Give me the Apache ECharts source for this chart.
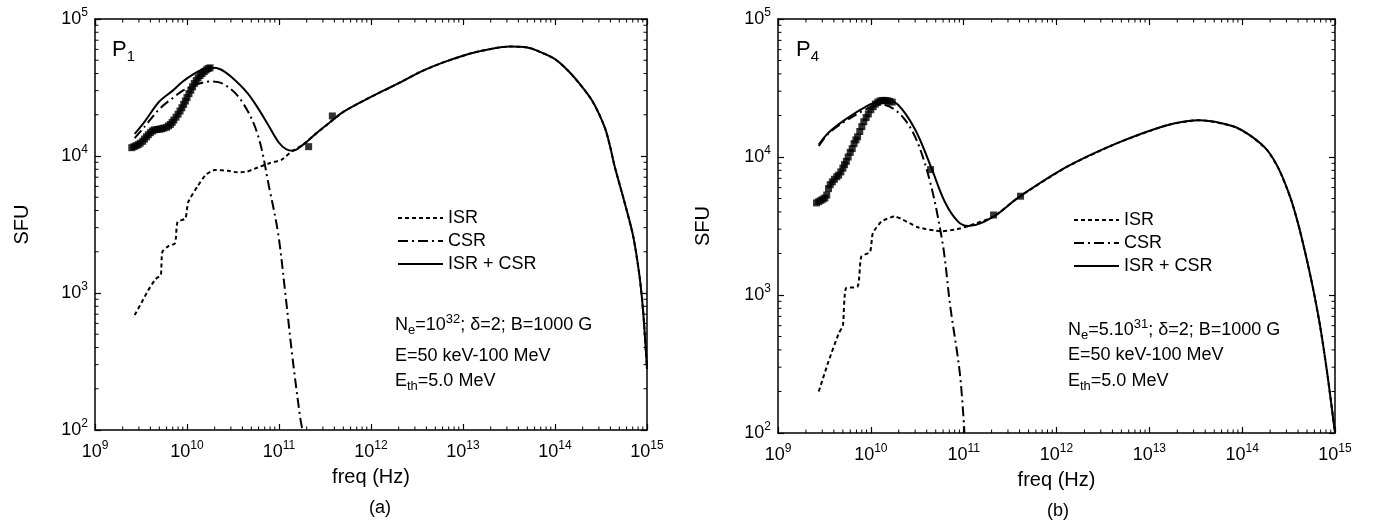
<!DOCTYPE html>
<html><head><meta charset="utf-8">
<script src="https://cdn.jsdelivr.net/npm/echarts@6/dist/echarts.min.js"></script>
<style>html,body{margin:0;padding:0;background:#fff}#c{width:1382px;height:524px}</style>
</head><body><div id="c"></div>
<script>
// ---------- tick labels / categories ----------
const xTicks = [1e9, 1e10, 1e11, 1e12, 1e13, 1e14, 1e15];
const yTicks = [1e2, 1e3, 1e4, 1e5];
const seriesNames = ['ISR', 'CSR', 'ISR + CSR'];
const panelTags = ['(a)', '(b)'];
const panelIdx = ['1', '4'];

// ---------- panel (a): P1 ----------
const p1Total = [[2.7e9,1.45e4],[3.5e9,1.8e4],[5e9,2.5e4],[7e9,3.0e4],[9e9,3.5e4],[1.2e10,4.0e4],[1.5e10,4.3e4],[1.85e10,4.4e4],[2.3e10,4.3e4],[3e10,3.8e4],[4.5e10,2.9e4],[6e10,2.2e4],[7.5e10,1.72e4],[1e11,1.25e4],[1.2e11,1.12e4],[1.4e11,1.09e4],[1.8e11,1.2e4],[2.5e11,1.45e4],[3.5e11,1.74e4],[5e11,2.1e4],[1e12,2.7e4],[2e12,3.4e4],[3.4e12,4.1e4],[6e12,4.8e4],[1.2e13,5.6e4],[2e13,6.05e4],[3.2e13,6.3e4],[5e13,6.2e4],[6.3e13,5.9e4],[1e14,5.1e4],[1.45e14,4.07e4],[2e14,3.16e4],[2.5e14,2.57e4],[3e14,2.04e4],[3.55e14,1.55e4],[4e14,1.15e4],[4.47e14,8.3e3],[5.6e14,4.8e3],[7.1e14,2.57e3],[8.3e14,1.32e3],[9.1e14,720],[1e15,280]];
const p1CSR = [[2.7e9,1.35e4],[3.5e9,1.65e4],[5e9,2.2e4],[7e9,2.65e4],[9e9,3.0e4],[1.3e10,3.35e4],[1.85e10,3.5e4],[2.5e10,3.35e4],[3.8e10,2.6e4],[5.8e10,1.47e4],[7.9e10,5.7e3],[9.8e10,2.7e3],[1.17e11,1e3],[1.4e11,340],[1.7e11,123],[1.8e11,100]];
const p1ISRLow = [[2.7e9,690],[3.2e9,850],[3.8e9,1050],[4.5e9,1250],[4.8e9,1300],[5.2e9,1350],[5.4e9,2000],[6.3e9,2200],[7.4e9,2300],[7.9e9,3300],[9.6e9,3500],[1.03e10,4600],[1.3e10,6000],[1.6e10,7300],[2e10,7900],[2.8e10,7800],[3.5e10,7600],[4.5e10,7700],[5.5e10,8100],[8e10,8900],[1.07e11,9400],[1.4e11,1.09e4]];
const p1Obs = [[2.51e9,1.15e4],[2.65e9,1.17e4],[2.8e9,1.19e4],[2.95e9,1.21e4],[3.1e9,1.24e4],[3.3e9,1.28e4],[3.45e9,1.33e4],[3.63e9,1.38e4],[3.8e9,1.43e4],[4.0e9,1.48e4],[4.2e9,1.52e4],[4.4e9,1.55e4],[4.7e9,1.56e4],[5.0e9,1.57e4],[5.3e9,1.58e4],[5.6e9,1.6e4],[6.0e9,1.62e4],[6.3e9,1.66e4],[6.6e9,1.7e4],[6.9e9,1.76e4],[7.2e9,1.83e4],[7.6e9,1.92e4],[8.0e9,2.02e4],[8.4e9,2.13e4],[8.8e9,2.25e4],[9.2e9,2.38e4],[9.6e9,2.52e4],[1e10,2.67e4],[1.05e10,2.85e4],[1.1e10,3.02e4],[1.15e10,3.2e4],[1.2e10,3.38e4],[1.26e10,3.55e4],[1.32e10,3.72e4],[1.39e10,3.87e4],[1.46e10,4.0e4],[1.54e10,4.13e4],[1.62e10,4.25e4],[1.7e10,4.35e4],[1.78e10,4.4e4],[2.1e11,1.17e4],[3.8e11,1.96e4]];

// ---------- panel (b): P4 ----------
const p4Total = [[2.75e9,1.23e4],[3.5e9,1.5e4],[5.2e9,1.85e4],[8.7e9,2.3e4],[1.4e10,2.6e4],[1.95e10,2.4e4],[3e10,1.58e4],[4.5e10,8.3e3],[6.3e10,4.7e3],[8.7e10,3.4e3],[1.12e11,3.16e3],[2.1e11,3.7e3],[3.9e11,5.1e3],[1.3e12,8.5e3],[4.5e12,1.26e4],[1.55e13,1.7e4],[3.5e13,1.85e4],[8e13,1.67e4],[1.26e14,1.41e4],[1.86e14,1.12e4],[2.5e14,8.1e3],[3.3e14,5.1e3],[4e14,3.3e3],[4.8e14,2e3],[5.75e14,1.15e3],[6.9e14,600],[8.3e14,263],[1e15,100]];
const p4CSR = [[2.75e9,1.2e4],[3.5e9,1.48e4],[5.2e9,1.8e4],[8.7e9,2.2e4],[1.3e10,2.4e4],[2.35e10,1.85e4],[3.8e10,9.1e3],[5.8e10,2.6e3],[7.2e10,810],[9.1e10,270],[1.02e11,100]];
const p4ISRLow = [[2.75e9,200],[3.5e9,330],[4.5e9,525],[5e9,600],[5.4e9,1120],[7.2e9,1150],[7.9e9,1900],[9.8e9,2050],[1.05e10,2800],[1.3e10,3400],[1.8e10,3700],[3.2e10,3100],[5.8e10,2900],[8.5e10,3000],[1.12e11,3160]];
const p4Obs = [[2.6e9,4.65e3],[2.75e9,4.75e3],[2.9e9,4.85e3],[3.05e9,4.95e3],[3.2e9,5.05e3],[3.35e9,5.3e3],[3.5e9,5.9e3],[3.65e9,6.3e3],[3.85e9,6.6e3],[4.05e9,6.9e3],[4.3e9,7.2e3],[4.5e9,7.4e3],[4.75e9,7.8e3],[5.0e9,8.3e3],[5.2e9,8.8e3],[5.45e9,9.3e3],[5.7e9,1.0e4],[6.0e9,1.08e4],[6.3e9,1.15e4],[6.6e9,1.25e4],[6.9e9,1.33e4],[7.2e9,1.4e4],[7.6e9,1.53e4],[8.0e9,1.66e4],[8.4e9,1.8e4],[8.9e9,1.93e4],[9.4e9,2.05e4],[1.0e10,2.2e4],[1.06e10,2.32e4],[1.12e10,2.42e4],[1.19e10,2.5e4],[1.26e10,2.55e4],[1.34e10,2.57e4],[1.42e10,2.57e4],[1.5e10,2.56e4],[1.6e10,2.53e4],[1.7e10,2.5e4],[4.4e10,8.1e3],[2.1e11,3.8e3],[4.1e11,5.2e3]];

// ISR curve merges with the total at high frequency
function isrFull(low, total){
  const last = low[low.length-1][0];
  return low.concat(total.filter(d => d[0] > last));
}
const panels = [
  {isr: isrFull(p1ISRLow, p1Total), csr: p1CSR, tot: p1Total, obs: p1Obs},
  {isr: isrFull(p4ISRLow, p4Total), csr: p4CSR, tot: p4Total, obs: p4Obs}
];

const FONT = '"Liberation Sans", Arial, Helvetica, sans-serif';
const grids = [
  {left: 95, top: 19, width: 552, height: 411},
  {left: 778, top: 19, width: 557, height: 414}
];
function minorVals(ticks){
  const out = [];
  for (let i = 0; i < ticks.length-1; i++) for (let m = 2; m <= 9; m++) out.push(m*ticks[i]);
  return out;
}
const xMinor = minorVals(xTicks), yMinor = minorVals(yTicks);
function expLabel(v){ return '{b|10}{s|' + Math.round(Math.log10(v)) + '}'; }
const labRich = {
  b: {fontSize: 18, fontFamily: FONT, color: '#000'},
  s: {fontSize: 12, fontFamily: FONT, color: '#000', padding: [0,0,12,0]}
};
const lineBlack = {show: true, onZero: false, lineStyle: {color: '#000', width: 1.5}};
const majorTick = {show: true, inside: true, length: 6, lineStyle: {color: '#000', width: 1.2}};

function makeAxes(dim, gi){
  const ticks = dim === 'x' ? xTicks : yTicks;
  const pos = dim === 'x' ? ['bottom','top'] : ['left','right'];
  const base = {type: 'log', logBase: 10, gridIndex: gi, min: ticks[0], max: ticks[ticks.length-1],
    splitNumber: ticks.length - 1, splitLine: {show: false}, minorTick: {show: false}, minorSplitLine: {show: false},
    axisLine: lineBlack, axisTick: majorTick};
  return [
    Object.assign({}, base, {
      position: pos[0],
      axisLabel: {show: true, formatter: expLabel, rich: labRich, margin: dim === 'x' ? 10 : 7, showMinLabel: true, showMaxLabel: true, hideOverlap: false},
      name: dim === 'x' ? 'freq (Hz)' : 'SFU', nameLocation: 'middle',
      nameGap: dim === 'x' ? 37 : (gi === 0 ? 63 : 65),
      nameTextStyle: {fontSize: 20, fontFamily: FONT, color: '#000'}
    }),
    Object.assign({}, base, {position: pos[1], axisLabel: {show: false}})
  ];
}
const xAxes = makeAxes('x', 0).concat(makeAxes('x', 1));
const yAxes = makeAxes('y', 0).concat(makeAxes('y', 1));

const series = [];
panels.forEach((p, gi) => {
  const ax = {xAxisIndex: 2*gi, yAxisIndex: 2*gi};
  series.push(Object.assign({name: seriesNames[0], type: 'line', data: p.isr, symbol: 'none', smooth: 0.2,
    lineStyle: {color: '#000', width: 2, type: [4, 3]}, itemStyle: {color: '#000'}, z: 2}, ax));
  series.push(Object.assign({name: seriesNames[1], type: 'line', data: p.csr, symbol: 'none', smooth: 0.35,
    lineStyle: {color: '#000', width: 2, type: [10, 4, 2, 4]}, itemStyle: {color: '#000'}, z: 3}, ax));
  series.push(Object.assign({name: seriesNames[2], type: 'line', data: p.tot, symbol: 'none', smooth: 0.35,
    lineStyle: {color: '#000', width: 2, type: 'solid'}, itemStyle: {color: '#000'}, z: 4}, ax));
  series.push(Object.assign({name: 'obs', type: 'scatter', data: p.obs, symbol: 'rect', symbolSize: 7,
    itemStyle: {color: '#000'}, z: 5}, ax));
});

const legendCommon = {orient: 'vertical', itemWidth: 45, itemHeight: 14, itemGap: 5, data: seriesNames,
  itemStyle: {opacity: 0, color: 'rgba(0,0,0,0)', borderWidth: 0},
  textStyle: {fontSize: 18, fontFamily: FONT, color: '#000', lineHeight: 18}, selectedMode: false};

function rt(x, y, text){
  return {type: 'text', x: x, y: y, silent: true, z: 10, style: {text: text, verticalAlign: 'middle', align: 'left',
    fill: '#000', font: '18px ' + FONT, rich: {
      a: {fontSize: 18, fontFamily: FONT, fill: '#000'},
      sub: {fontSize: 13, fontFamily: FONT, fill: '#000', padding: [11,0,0,0]},
      sup: {fontSize: 13, fontFamily: FONT, fill: '#000', padding: [0,0,12,0]},
      P: {fontSize: 22, fontFamily: FONT, fill: '#000'},
      Ps: {fontSize: 15, fontFamily: FONT, fill: '#000', padding: [14,0,0,0]}
    }}};
}
const texts = [
  rt(112, 50, '{P|P}{Ps|' + panelIdx[0] + '}'),
  rt(796, 50, '{P|P}{Ps|' + panelIdx[1] + '}'),
  rt(395, 325, '{a|N}{sub|e}{a|=10}{sup|32}{a|; δ=2; B=1000 G}'),
  rt(395, 356, '{a|E=50 keV-100 MeV}'),
  rt(395, 381, '{a|E}{sub|th}{a|=5.0 MeV}'),
  rt(1068, 330, '{a|N}{sub|e}{a|=5.10}{sup|31}{a|; δ=2; B=1000 G}'),
  rt(1068, 355, '{a|E=50 keV-100 MeV}'),
  rt(1068, 381, '{a|E}{sub|th}{a|=5.0 MeV}'),
  {type: 'text', x: 380, y: 508, style: {text: panelTags[0], align: 'center', verticalAlign: 'middle', fill: '#000', font: '18px ' + FONT}},
  {type: 'text', x: 1058, y: 511, style: {text: panelTags[1], align: 'center', verticalAlign: 'middle', fill: '#000', font: '18px ' + FONT}}
];

const chart = echarts.init(document.getElementById('c'), null, {renderer: 'canvas'});
chart.setOption({
  backgroundColor: '#fff',
  animation: false,
  grid: grids,
  xAxis: xAxes,
  yAxis: yAxes,
  legend: [
    Object.assign({left: 392, top: 204}, legendCommon),
    Object.assign({left: 1068, top: 206}, legendCommon)
  ],
  series: series
});

// minor log ticks (2..9 per decade) placed through the axes' own scales, mirrored on all four sides
const tickEls = [];
[0, 1].forEach(gi => {
  const xi = {xAxisIndex: 2*gi}, yi = {yAxisIndex: 2*gi};
  const yB = chart.convertToPixel(yi, yTicks[0]), yT = chart.convertToPixel(yi, yTicks[yTicks.length-1]);
  const xL = chart.convertToPixel(xi, xTicks[0]), xR = chart.convertToPixel(xi, xTicks[xTicks.length-1]);
  const st = {stroke: '#000', lineWidth: 1};
  xMinor.forEach(v => {
    const px = chart.convertToPixel(xi, v);
    tickEls.push({type: 'line', silent: true, shape: {x1: px, y1: yB, x2: px, y2: yB - 3.5}, style: st});
    tickEls.push({type: 'line', silent: true, shape: {x1: px, y1: yT, x2: px, y2: yT + 3.5}, style: st});
  });
  yMinor.forEach(v => {
    const py = chart.convertToPixel(yi, v);
    tickEls.push({type: 'line', silent: true, shape: {x1: xL, y1: py, x2: xL + 3.5, y2: py}, style: st});
    tickEls.push({type: 'line', silent: true, shape: {x1: xR, y1: py, x2: xR - 3.5, y2: py}, style: st});
  });
});
chart.setOption({graphic: texts.concat(tickEls)});
</script></body></html>
